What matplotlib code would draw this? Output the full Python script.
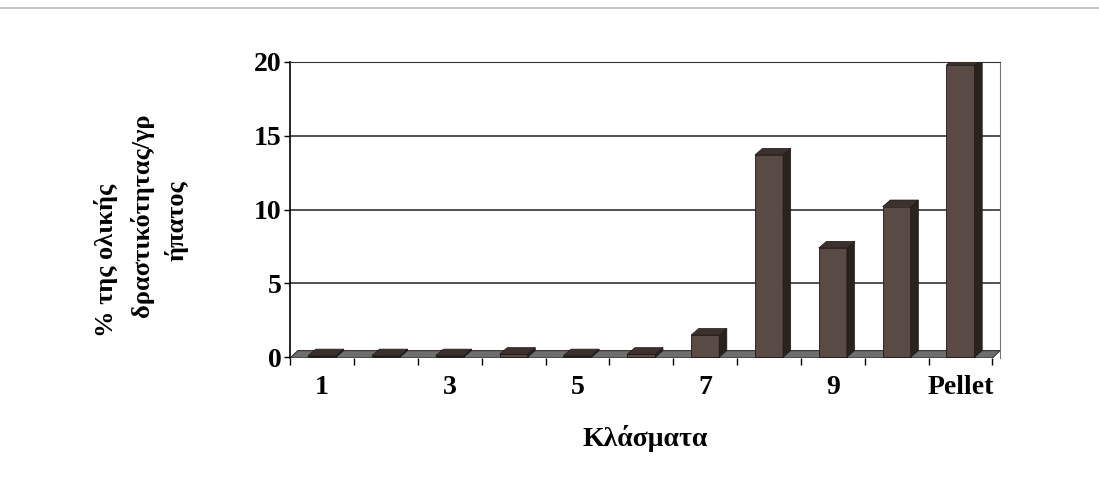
import numpy as np
import matplotlib.pyplot as plt
from matplotlib.patches import Polygon

# Fractions and % of total activity per gram of liver
fractions = ['1', '2', '3', '4', '5', '6', '7', '8', '9', '10', 'Pellet']
activity = [0.1, 0.1, 0.1, 0.2, 0.1, 0.2, 1.5, 13.7, 7.4, 10.2, 19.8]

shown_labels = ['1', '3', '5', '7', '9', 'Pellet']
ylabel_lines = ['% της ολικής', 'δραστικότητας/γρ', 'ήπατος']

plt.rcParams['font.family'] = ['Liberation Serif', 'DejaVu Serif']
plt.rcParams['font.weight'] = 'bold'

fig = plt.figure(figsize=(10.99, 4.97), dpi=100)
ax = fig.add_axes([0.264, 0.2797, 0.646, 0.5956])

x = np.arange(len(fractions))
width = 0.44
dx, dy = 0.12, 0.45   # depth offset of the 3D look

front = '#5a4a46'
side = '#2a2220'
top = '#3b312e'

# gridlines on back wall
for v in [5, 10, 15]:
    ax.axhline(v, color='#222222', lw=1.1, zorder=0)

# floor
floor = Polygon([(-0.5, -0.05), (10.5, -0.05), (10.5 + dx, dy), (-0.5 + dx, dy)],
                closed=True, facecolor='#6e6e6e', edgecolor='#333333', lw=0.8, zorder=1)
ax.add_patch(floor)

ax.bar(x, activity, width=width, color=front, edgecolor='#1e1816', lw=0.6, zorder=3)
for xi, v in zip(x, activity):
    l, r = xi - width / 2, xi + width / 2
    ax.add_patch(Polygon([(r, 0), (r + dx, dy), (r + dx, v + dy), (r, v)],
                         closed=True, facecolor=side, edgecolor='#1e1816', lw=0.5, zorder=3))
    ax.add_patch(Polygon([(l, v), (r, v), (r + dx, v + dy), (l + dx, v + dy)],
                         closed=True, facecolor=top, edgecolor='#1e1816', lw=0.5, zorder=3))

ax.set_xlim(-0.5, 10.5 + dx)
ax.set_ylim(-0.05, 20)

ax.set_yticks([0, 5, 10, 15, 20])
ax.tick_params(axis='y', direction='out', length=4, width=1, labelsize=20, pad=2)

ax.set_xticks(x[::2])
ax.set_xticklabels(shown_labels)
ax.set_xticks(np.arange(-0.5, 11, 1.0), minor=True)
ax.tick_params(axis='x', which='major', length=0, labelsize=20, pad=12)
ax.tick_params(axis='x', which='minor', direction='out', length=5, width=1)

ax.spines['bottom'].set_visible(False)
ax.spines['top'].set_color('#333333')
ax.spines['right'].set_color('#777777')
ax.spines['left'].set_linewidth(1.2)

ax.set_xlabel('Κλάσματα', fontsize=20, fontweight='bold', labelpad=18)

# y label, three rotated lines as in the original
for txt, xp, yp in zip(ylabel_lines, [0.0965, 0.129, 0.161], [0.475, 0.567, 0.555]):
    fig.text(xp, yp, txt, rotation=90, ha='center', va='center',
             fontsize=19, fontweight='bold')

# scan edge line at top of page
fig.add_artist(plt.Line2D([0.0, 1.0], [0.983, 0.983], color='#bbbbbb', lw=1.2))

fig.savefig('out.png', dpi=100)
